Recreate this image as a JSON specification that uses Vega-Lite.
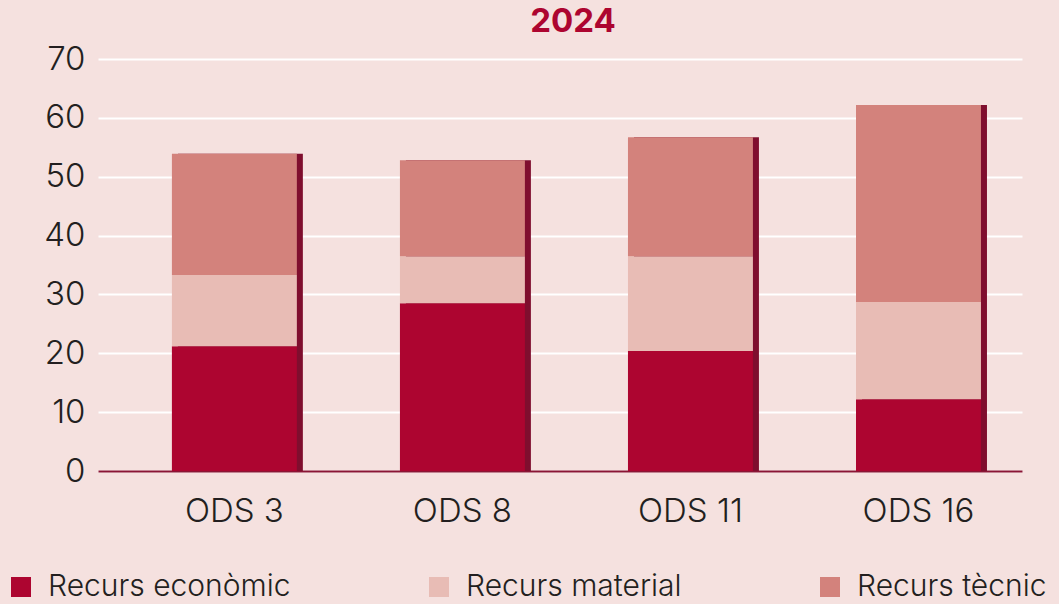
{
  "$schema": "https://vega.github.io/schema/vega-lite/v6.json",
  "width": 924,
  "height": 412,
  "autosize": {"type": "none"},
  "padding": {"left": 98, "top": 59, "right": 37, "bottom": 133},
  "background": "#f5e1df",
  "title": {"text": "2024", "color": "#ad0530", "fontSize": 33, "font": "Inter", "fontWeight": "bold", "anchor": "middle", "dx": 13, "offset": 4},
  "config": {
    "view": {"stroke": null},
    "font": "Inter"
  },
  "data": {"values": [
    {"ods": "ODS 3", "tipus": "Recurs econòmic", "ord": 1, "value": 21.2},
    {"ods": "ODS 3", "tipus": "Recurs material", "ord": 2, "value": 12.1},
    {"ods": "ODS 3", "tipus": "Recurs tècnic", "ord": 3, "value": 20.6},
    {"ods": "ODS 8", "tipus": "Recurs econòmic", "ord": 1, "value": 28.5},
    {"ods": "ODS 8", "tipus": "Recurs material", "ord": 2, "value": 8.0},
    {"ods": "ODS 8", "tipus": "Recurs tècnic", "ord": 3, "value": 16.3},
    {"ods": "ODS 11", "tipus": "Recurs econòmic", "ord": 1, "value": 20.4},
    {"ods": "ODS 11", "tipus": "Recurs material", "ord": 2, "value": 16.1},
    {"ods": "ODS 11", "tipus": "Recurs tècnic", "ord": 3, "value": 20.2},
    {"ods": "ODS 16", "tipus": "Recurs econòmic", "ord": 1, "value": 12.2},
    {"ods": "ODS 16", "tipus": "Recurs material", "ord": 2, "value": 16.5},
    {"ods": "ODS 16", "tipus": "Recurs tècnic", "ord": 3, "value": 33.5}
  ]},
  "encoding": {
    "x": {
      "field": "ods", "type": "nominal", "sort": ["ODS 3", "ODS 8", "ODS 11", "ODS 16"],
      "scale": {"paddingInner": 0.452, "paddingOuter": 0.252, "align": 0.643},
      "axis": {"title": null, "labelAngle": 0, "labelFontSize": 33, "labelFont": "Inter", "labelFontWeight": 300, "labelColor": "#231f20", "labelPadding": 24, "ticks": false, "domainColor": "#8a1535", "domainWidth": 2, "grid": false}
    }
  },
  "layer": [
    {
      "mark": {"type": "bar", "xOffset": 6, "color": "#7f0e2e"},
      "encoding": {
        "y": {"aggregate": "sum", "field": "value", "type": "quantitative"}
      }
    },
    {
      "mark": {"type": "bar"},
      "encoding": {
        "y": {
          "aggregate": "sum", "field": "value", "type": "quantitative",
          "scale": {"domain": [0, 70]},
          "axis": {"title": null, "values": [0, 10, 20, 30, 40, 50, 60, 70], "labelFontSize": 33, "labelFont": "Inter", "labelFontWeight": 300, "labelColor": "#231f20", "labelPadding": 13, "ticks": false, "domain": false, "grid": true, "gridColor": "#ffffff", "gridWidth": 2}
        },
        "color": {
          "field": "tipus", "type": "nominal",
          "scale": {"domain": ["Recurs econòmic", "Recurs material", "Recurs tècnic"], "range": ["#ad0530", "#e8bcb5", "#d3827c"]},
          "legend": {"title": null, "orient": "none", "legendX": -92, "legendY": 513, "direction": "horizontal", "symbolType": "square", "symbolSize": 400, "symbolStrokeWidth": 0, "symbolOpacity": 1, "labelFontSize": 30, "labelFont": "Inter", "labelFontWeight": 300, "labelColor": "#231f20", "labelLimit": 0, "columnPadding": 133, "labelOffset": 12}
        },
        "order": {"field": "ord", "type": "quantitative"}
      }
    }
  ]
}
